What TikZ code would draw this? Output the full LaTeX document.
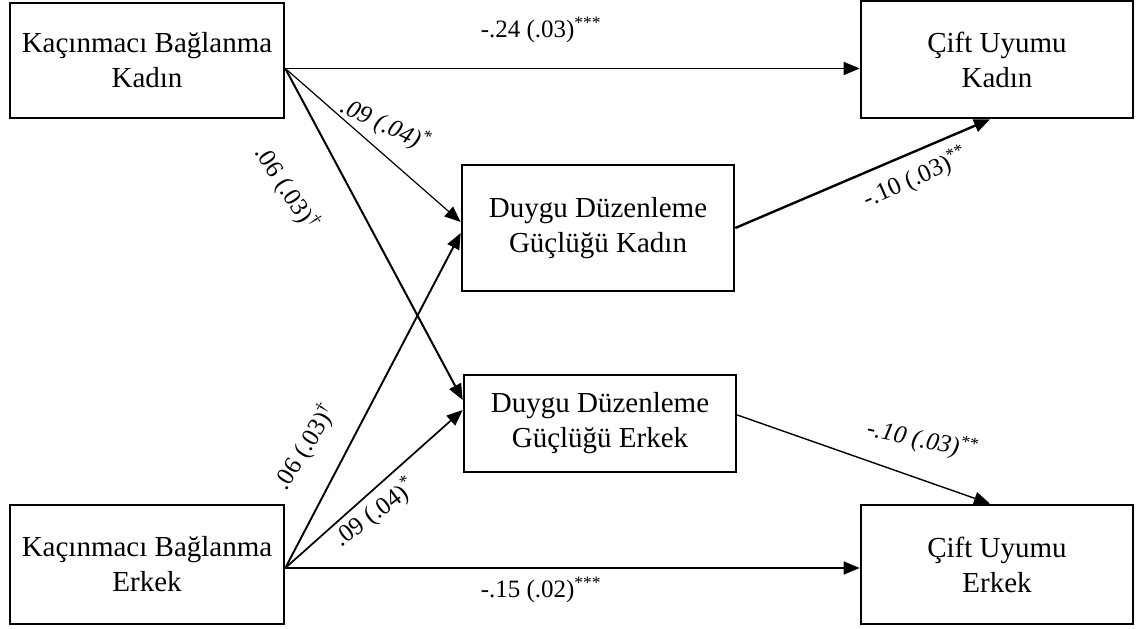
\documentclass[tikz,border=0pt]{standalone}
\usepackage{fontspec}
\setmainfont{Liberation Serif}
\usetikzlibrary{arrows.meta}
\begin{document}
\begin{tikzpicture}[x=1pt,y=1pt,
  box/.style={draw,line width=2.6pt,align=center,inner sep=0pt,font=\fontsize{29}{35}\selectfont},
  lab/.style={inner sep=0pt,font=\fontsize{25}{28}\selectfont},
  conn/.style={line width=1.5pt,-{Triangle[length=16pt,width=13pt]}}]
\useasboundingbox (0,0) rectangle (1136,629);
% boxes
\node[box,minimum width=274pt,minimum height=115pt] (KBK) at (147,568.5) {Kaçınmacı Bağlanma\\Kadın};
\node[box,minimum width=272pt,minimum height=117pt] (CUK) at (997,569.5) {Çift Uyumu\\Kadın};
\node[box,minimum width=272pt,minimum height=126pt] (DDGK) at (598,401) {Duygu Düzenleme\\Güçlüğü Kadın};
\node[box,minimum width=272pt,minimum height=97pt] (DDGE) at (600,205.5) {Duygu Düzenleme\\Güçlüğü Erkek};
\node[box,minimum width=274pt,minimum height=119pt] (KBE) at (147,64.5) {Kaçınmacı Bağlanma\\Erkek};
\node[box,minimum width=272pt,minimum height=119pt] (CUE) at (997,64.5) {Çift Uyumu\\Erkek};
% anchor points
\coordinate (kbkout) at ([yshift=-8pt]KBK.east);
\coordinate (kbeout) at ([yshift=-3.5pt]KBE.east);
\coordinate (cukin) at ([xshift=-7pt]CUK.south);
\coordinate (cuein) at ([xshift=-7pt]CUE.north);
\coordinate (ddgkA) at ([yshift=6pt]DDGK.west);
\coordinate (ddgkB) at ([yshift=-5pt]DDGK.west);
\coordinate (ddgeA) at ([yshift=23.5pt]DDGE.west);
\coordinate (ddgeB) at ([yshift=13.5pt]DDGE.west);
\coordinate (ddgeout) at ([yshift=8.5pt]DDGE.east);
% connectors
\draw[conn] (kbkout) -- (kbkout -| CUK.west);
\draw[conn] (kbeout) -- (kbeout -| CUE.west);
\draw[conn,line width=1.2pt] (kbkout) -- (ddgkA);
\draw[conn,line width=2pt] (kbkout) -- (ddgeA);
\draw[conn,line width=1.9pt] (kbeout) -- (ddgkB);
\draw[conn,line width=1.7pt] (kbeout) -- (ddgeB);
\draw[conn,line width=2.4pt] (DDGK.east) -- (cukin);
\draw[conn,line width=1.4pt] (ddgeout) -- (cuein);
% labels
\node[lab] (l1) at (541,599) {-.24 (.03)\textsuperscript{***}};
\node[lab] (l2) at (541,39) {-.15 (.02)\textsuperscript{***}};
\node[lab,rotate=-25,font=\fontsize{25}{28}\selectfont\itshape] (l3) at (385,504) {.09 (.04)\textsuperscript{*}};
\node[lab,rotate=-57] (l4) at (287,441) {.06 (.03)\textsuperscript{†}};
\node[lab,rotate=24] (l5) at (915,451) {-.10 (.03)\textsuperscript{**}};
\node[lab,rotate=-12,font=\fontsize{25}{28}\selectfont\itshape] (l6) at (922,189) {-.10 (.03)\textsuperscript{**}};
\node[lab,rotate=58] (l7) at (305,182) {.06 (.03)\textsuperscript{†}};
\node[lab,rotate=37] (l8) at (375,116) {.09 (.04)\textsuperscript{*}};
\end{tikzpicture}
\end{document}
